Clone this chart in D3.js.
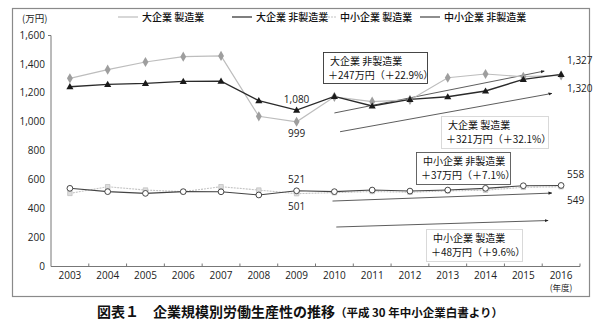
<!DOCTYPE html>
<html>
<head>
<meta charset="utf-8">
<script src="https://cdn.jsdelivr.net/npm/d3@7"></script>
<style>
  html, body { margin: 0; padding: 0; background: #fff; }
  svg { display: block; font-family: "Noto Sans CJK JP", "Noto Sans", sans-serif; }
</style>
</head>
<body>
<svg id="chart" width="600" height="329"></svg>
<script>
// Fiscal years
const years = [2003, 2004, 2005, 2006, 2007, 2008, 2009, 2010, 2011, 2012, 2013, 2014, 2015, 2016];

// Labour productivity (万円) by company size and sector
const largeMfg    = [1300, 1360, 1413, 1450, 1455, 1037, 999, 1172, 1138, 1150, 1304, 1330, 1311, 1320];
const largeNonMfg = [1242, 1258, 1265, 1279, 1280, 1145, 1080, 1175, 1108, 1154, 1172, 1212, 1293, 1327];
const smeMfg      = [503, 549, 526, 515, 549, 526, 501, 508, 516, 511, 520, 525, 545, 549];
const smeNonMfg   = [538, 515, 503, 515, 514, 492, 521, 515, 526, 519, 526, 538, 556, 558];

const yTicks = [0, 200, 400, 600, 800, 1000, 1200, 1400, 1600];
const seriesNames = ["大企業 製造業", "大企業 非製造業", "中小企業 製造業", "中小企業 非製造業"];

// Trend arrows: start year/value to end year/value
const trends = [
  { x0: 2010, y0: 1060, x1: 2015.55, y1: 1350 },
  { x0: 2010.15, y0: 930, x1: 2015.75, y1: 1195 },
  { x0: 2009.95, y0: 450, x1: 2015.75, y1: 505 },
  { x0: 2010.05, y0: 270, x1: 2015.65, y1: 315 }
];

const notes = [
  { lines: ["大企業 非製造業", "＋247万円（＋22.9%）"], x: 323, y: 52, w: 104, h: 31, dash: null, stroke: "#333" },
  { lines: ["大企業 製造業", "＋321万円（＋32.1%）"], x: 441, y: 116, w: 107, h: 32, dash: "1,1", stroke: "#aaa" },
  { lines: ["中小企業 非製造業", "＋37万円（＋7.1%）"], x: 416, y: 152, w: 94, h: 32, dash: null, stroke: "#555" },
  { lines: ["中小企業 製造業", "＋48万円（＋9.6%）"], x: 426, y: 229, w: 96, h: 32, dash: "1,1", stroke: "#aaa" }
];

const svg = d3.select("#chart");

// Outer frame
svg.append("rect").attr("x", 12.5).attr("y", 8.5).attr("width", 577).attr("height", 288)
  .attr("fill", "none").attr("stroke", "#8a8a8a").attr("stroke-width", 1.2);

const x = d3.scaleBand().domain(years).range([51, 580]);
const xc = yr => x(yr) + x.bandwidth() / 2;
const xLin = d3.scaleLinear().domain([2003, 2016]).range([xc(2003), xc(2016)]);
const y = d3.scaleLinear().domain([0, 1600]).range([266, 35]);

// Y axis
const yAxis = svg.append("g").attr("transform", "translate(51,0)")
  .call(d3.axisLeft(y).tickValues(yTicks).tickSize(3).tickFormat(d3.format(",")));
yAxis.select(".domain").attr("stroke", "#777").attr("d", "M-3,35.5H0V266.5");
yAxis.selectAll(".tick line").attr("stroke", "#777").attr("x1", -3);
yAxis.selectAll(".tick text").attr("font-size", 10).attr("fill", "#222")
  .attr("x", -6).attr("font-family", "'Open Sans', sans-serif");

svg.append("text").attr("x", 22).attr("y", 22).attr("font-size", 9.5).attr("fill", "#222")
  .text("(万円)");

// X axis with ticks at band boundaries
const xAxisG = svg.append("g").attr("transform", "translate(0,266.5)");
xAxisG.append("line").attr("x1", 51).attr("x2", 580).attr("stroke", "#777");
xAxisG.selectAll("line.tk").data(years).join("line").attr("class", "tk")
  .attr("x1", d => x(d) + x.bandwidth()).attr("x2", d => x(d) + x.bandwidth())
  .attr("y1", 0).attr("y2", -3).attr("stroke", "#777");
xAxisG.selectAll("text").data(years).join("text")
  .attr("x", d => xc(d)).attr("y", 12).attr("text-anchor", "middle")
  .attr("font-size", 10).attr("fill", "#222").attr("font-family", "'Open Sans', sans-serif")
  .text(d => d);
svg.append("text").attr("x", xc(2016)).attr("y", 291).attr("text-anchor", "middle")
  .attr("font-size", 8.5).attr("fill", "#222").text("(年度)");

// Arrow head marker
const defs = svg.append("defs");
defs.append("marker").attr("id", "ah").attr("viewBox", "0 0 10 10")
  .attr("refX", 8).attr("refY", 5).attr("markerWidth", 5).attr("markerHeight", 5)
  .attr("orient", "auto").append("path").attr("d", "M0,1L10,5L0,9Z").attr("fill", "#222");

svg.selectAll("line.trend").data(trends).join("line").attr("class", "trend")
  .attr("x1", d => xLin(d.x0)).attr("y1", d => y(d.y0))
  .attr("x2", d => xLin(d.x1)).attr("y2", d => y(d.y1))
  .attr("stroke", "#333").attr("stroke-width", 0.8).attr("marker-end", "url(#ah)");

const line = d3.line().x((d, i) => xc(years[i])).y(d => y(d));

// Series lines
svg.append("path").datum(largeMfg).attr("d", line).attr("fill", "none")
  .attr("stroke", "#bdbdbd").attr("stroke-width", 1.2);
svg.append("path").datum(smeMfg).attr("d", line).attr("fill", "none")
  .attr("stroke", "#c4c4c4").attr("stroke-width", 1.1).attr("stroke-dasharray", "2,1");
svg.append("path").datum(smeNonMfg).attr("d", line).attr("fill", "none")
  .attr("stroke", "#444").attr("stroke-width", 1.1);
svg.append("path").datum(largeNonMfg).attr("d", line).attr("fill", "none")
  .attr("stroke", "#2a2a2a").attr("stroke-width", 1.4);

// Markers
const diamond = d3.symbol().type(d3.symbolDiamond).size(30);
const tri = d3.symbol().type(d3.symbolTriangle).size(22);
const sq = d3.symbol().type(d3.symbolSquare).size(20);
const circ = d3.symbol().type(d3.symbolCircle).size(26);

svg.append("g").selectAll("path").data(smeMfg).join("path")
  .attr("transform", (d, i) => `translate(${xc(years[i])},${y(d)})`)
  .attr("d", sq).attr("fill", "#ddd").attr("stroke", "#bbb").attr("stroke-width", 0.7);
svg.append("g").selectAll("path").data(smeNonMfg).join("path")
  .attr("transform", (d, i) => `translate(${xc(years[i])},${y(d)})`)
  .attr("d", circ).attr("fill", "#fff").attr("stroke", "#333").attr("stroke-width", 0.9);
svg.append("g").selectAll("path").data(largeMfg).join("path")
  .attr("transform", (d, i) => `translate(${xc(years[i])},${y(d)})`)
  .attr("d", diamond).attr("fill", "#9e9e9e");
svg.append("g").selectAll("path").data(largeNonMfg).join("path")
  .attr("transform", (d, i) => `translate(${xc(years[i])},${y(d) + 0.5})`)
  .attr("d", tri).attr("fill", "#1a1a1a");

// Value labels
const valLabels = [
  { v: largeNonMfg[6], yr: 2009, dy: -7, dx: 0 },
  { v: largeMfg[6], yr: 2009, dy: 15, dx: 0 },
  { v: smeNonMfg[6], yr: 2009, dy: -8, dx: 0 },
  { v: smeMfg[6], yr: 2009, dy: 16, dx: 0 },
  { v: largeNonMfg[13], yr: 2016, dy: -10, dx: 6 },
  { v: largeMfg[13], yr: 2016, dy: 17, dx: 6 },
  { v: smeNonMfg[13], yr: 2016, dy: -7, dx: 6 },
  { v: smeMfg[13], yr: 2016, dy: 17, dx: 6 }
];
svg.append("g").selectAll("text").data(valLabels).join("text")
  .attr("x", d => xc(d.yr) + d.dx).attr("y", d => y(d.v) + d.dy)
  .attr("text-anchor", d => d.dx ? "start" : "middle")
  .attr("font-size", 10).attr("fill", "#222").attr("font-family", "'Open Sans', sans-serif")
  .text(d => d3.format(",")(d.v));

// Annotation boxes
const ng = svg.append("g").selectAll("g").data(notes).join("g");
ng.append("rect").attr("x", d => d.x + 0.5).attr("y", d => d.y + 0.5)
  .attr("width", d => d.w).attr("height", d => d.h)
  .attr("fill", "#fff").attr("stroke", d => d.stroke).attr("stroke-width", 0.9)
  .attr("stroke-dasharray", d => d.dash);
ng.append("text").attr("x", d => d.x + 7).attr("y", d => d.y + 13)
  .attr("font-size", 10).attr("fill", "#111").text(d => d.lines[0]);
ng.append("text").attr("x", d => d.x + 5).attr("y", d => d.y + 26.5)
  .attr("font-size", 10).attr("fill", "#111").text(d => d.lines[1]);

// Legend
const legend = [
  { name: seriesNames[0], x: 118, sym: diamond, fill: "#9e9e9e", stroke: "none", line: "#bdbdbd", dash: null },
  { name: seriesNames[1], x: 232, sym: tri, fill: "#1a1a1a", stroke: "none", line: "#2a2a2a", dash: null },
  { name: seriesNames[2], x: 316, sym: sq, fill: "#ddd", stroke: "#bbb", line: "#c4c4c4", dash: "2,1" },
  { name: seriesNames[3], x: 420, sym: circ, fill: "#fff", stroke: "#333", line: "#444", dash: null }
];
const lg = svg.append("g").selectAll("g").data(legend).join("g")
  .attr("transform", d => `translate(${d.x},17)`);
lg.append("line").attr("x1", 0).attr("x2", 20).attr("stroke", d => d.line)
  .attr("stroke-width", 1.2).attr("stroke-dasharray", d => d.dash);
lg.append("path").attr("transform", "translate(10,0)").attr("d", d => d.sym)
  .attr("fill", d => d.fill).attr("stroke", d => d.stroke);
lg.append("text").attr("x", 24).attr("y", 4).attr("font-size", 10).attr("fill", "#111")
  .attr("font-weight", 500).text(d => d.name);

// Caption
const cap = svg.append("text").attr("x", 300).attr("y", 317).attr("text-anchor", "middle")
  .attr("fill", "#111");
cap.append("tspan").attr("font-size", 14).attr("font-weight", "bold").text("図表１　企業規模別労働生産性の推移");
cap.append("tspan").attr("font-size", 11.5).attr("font-weight", "bold").text("（平成 30 年中小企業白書より）");
</script>
</body>
</html>
